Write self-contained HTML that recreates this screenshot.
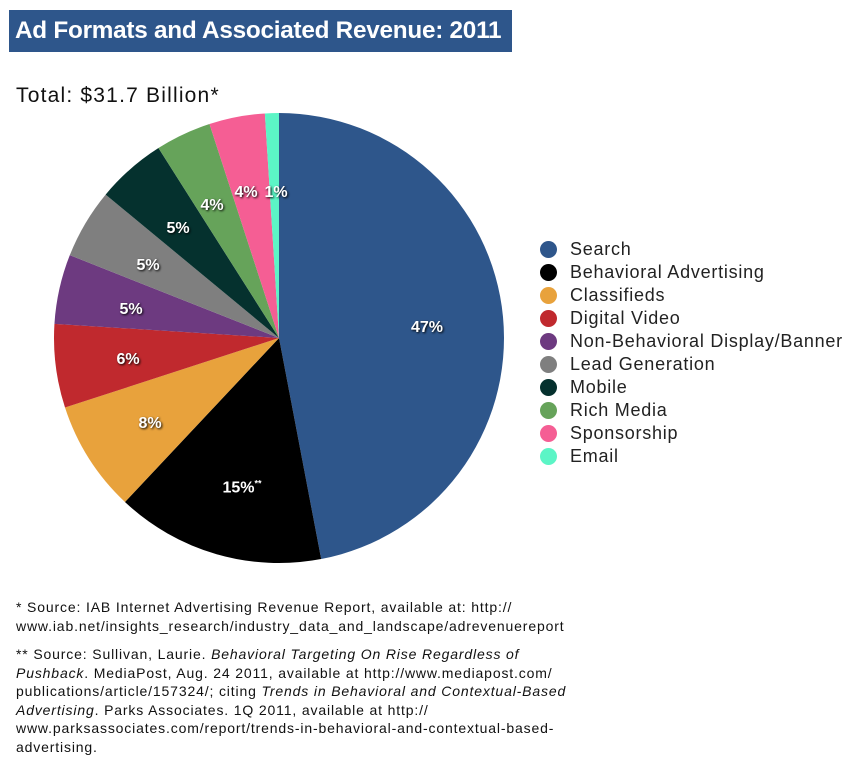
<!DOCTYPE html>
<html><head><meta charset="utf-8"><style>
body{margin:0;width:866px;height:762px;background:#fff;font-family:"Liberation Sans",sans-serif;position:relative;overflow:hidden}
.t{position:absolute;left:9px;top:10px;width:503px;height:42px;background:#2e568b;color:#fff;font-size:24.3px;font-weight:bold;line-height:42px;padding-left:6px;box-sizing:border-box;white-space:nowrap;letter-spacing:-0.25px;overflow:hidden}
.tot{position:absolute;left:16px;top:84px;font-size:21px;color:#111;letter-spacing:1.2px;white-space:nowrap}
.lg{position:absolute;left:538px;top:238px;font-size:18px;color:#222;letter-spacing:0.75px;white-space:nowrap}
.lg div{height:23px;line-height:23px;position:relative;padding-left:32px}
.lg span{position:absolute;left:2px;top:3px;width:17px;height:17px;border-radius:50%}
.lb{position:absolute;color:#fff;font-weight:bold;font-size:16px;text-shadow:1px 1px 2px #000;transform:translate(-50%,-50%)}
.fn{position:absolute;left:16px;font-size:14px;color:#111;line-height:18.5px;letter-spacing:0.85px;white-space:nowrap}
</style></head><body>
<div class="t">Ad Formats and Associated Revenue: 2011</div>
<div class="tot">Total: $31.7 Billion*</div>
<svg id="p" width="866" height="762" style="position:absolute;left:0;top:0"></svg>
<div class="lb" style="left:427px;top:328px">47%</div>
<div class="lb" style="left:242px;top:488px">15%<sup style="font-size:9px">**</sup></div>
<div class="lb" style="left:150px;top:424px">8%</div>
<div class="lb" style="left:128px;top:360px">6%</div>
<div class="lb" style="left:131px;top:310px">5%</div>
<div class="lb" style="left:148px;top:266px">5%</div>
<div class="lb" style="left:178px;top:229px">5%</div>
<div class="lb" style="left:212px;top:206px">4%</div>
<div class="lb" style="left:246px;top:193px">4%</div>
<div class="lb" style="left:276px;top:193px">1%</div>
<div class="lg">
<div><span style="background:#2e568b"></span>Search</div>
<div><span style="background:#000"></span>Behavioral Advertising</div>
<div><span style="background:#e8a23c"></span>Classifieds</div>
<div><span style="background:#c0292e"></span>Digital Video</div>
<div><span style="background:#6d3a80"></span>Non-Behavioral Display/Banner</div>
<div><span style="background:#7f7f7f"></span>Lead Generation</div>
<div><span style="background:#05312e"></span>Mobile</div>
<div><span style="background:#66a35a"></span>Rich Media</div>
<div><span style="background:#f55e94"></span>Sponsorship</div>
<div><span style="background:#5cf5c6"></span>Email</div>
</div>
<div class="fn" style="top:598px">* Source: IAB Internet Advertising Revenue Report, available at: http://<br>www.iab.net/insights_research/industry_data_and_landscape/adrevenuereport</div>
<div class="fn" style="top:645px">** Source: Sullivan, Laurie. <i>Behavioral Targeting On Rise Regardless of<br>Pushback</i>. MediaPost, Aug. 24 2011, available at http://www.mediapost.com/<br>publications/article/157324/; citing <i>Trends in Behavioral and Contextual-Based<br>Advertising</i>. Parks Associates. 1Q 2011, available at http://<br>www.parksassociates.com/report/trends-in-behavioral-and-contextual-based-<br>advertising.</div>
<script>
var v=[47,15,8,6,5,5,5,4,4,1],c=["#2e568b","#000","#e8a23c","#c0292e","#6d3a80","#7f7f7f","#05312e","#66a35a","#f55e94","#5cf5c6"];
var cx=279,cy=338,r=225,a=0,s="";
for(var i=0;i<v.length;i++){var b=a+v[i]/100*2*Math.PI;
var x1=cx+r*Math.sin(a),y1=cy-r*Math.cos(a),x2=cx+r*Math.sin(b),y2=cy-r*Math.cos(b);
s+='<path d="M'+cx+','+cy+' L'+x1+','+y1+' A'+r+','+r+' 0 '+(b-a>Math.PI?1:0)+' 1 '+x2+','+y2+' Z" fill="'+c[i]+'"/>';a=b;}
document.getElementById("p").innerHTML=s;
</script>
</body></html>
